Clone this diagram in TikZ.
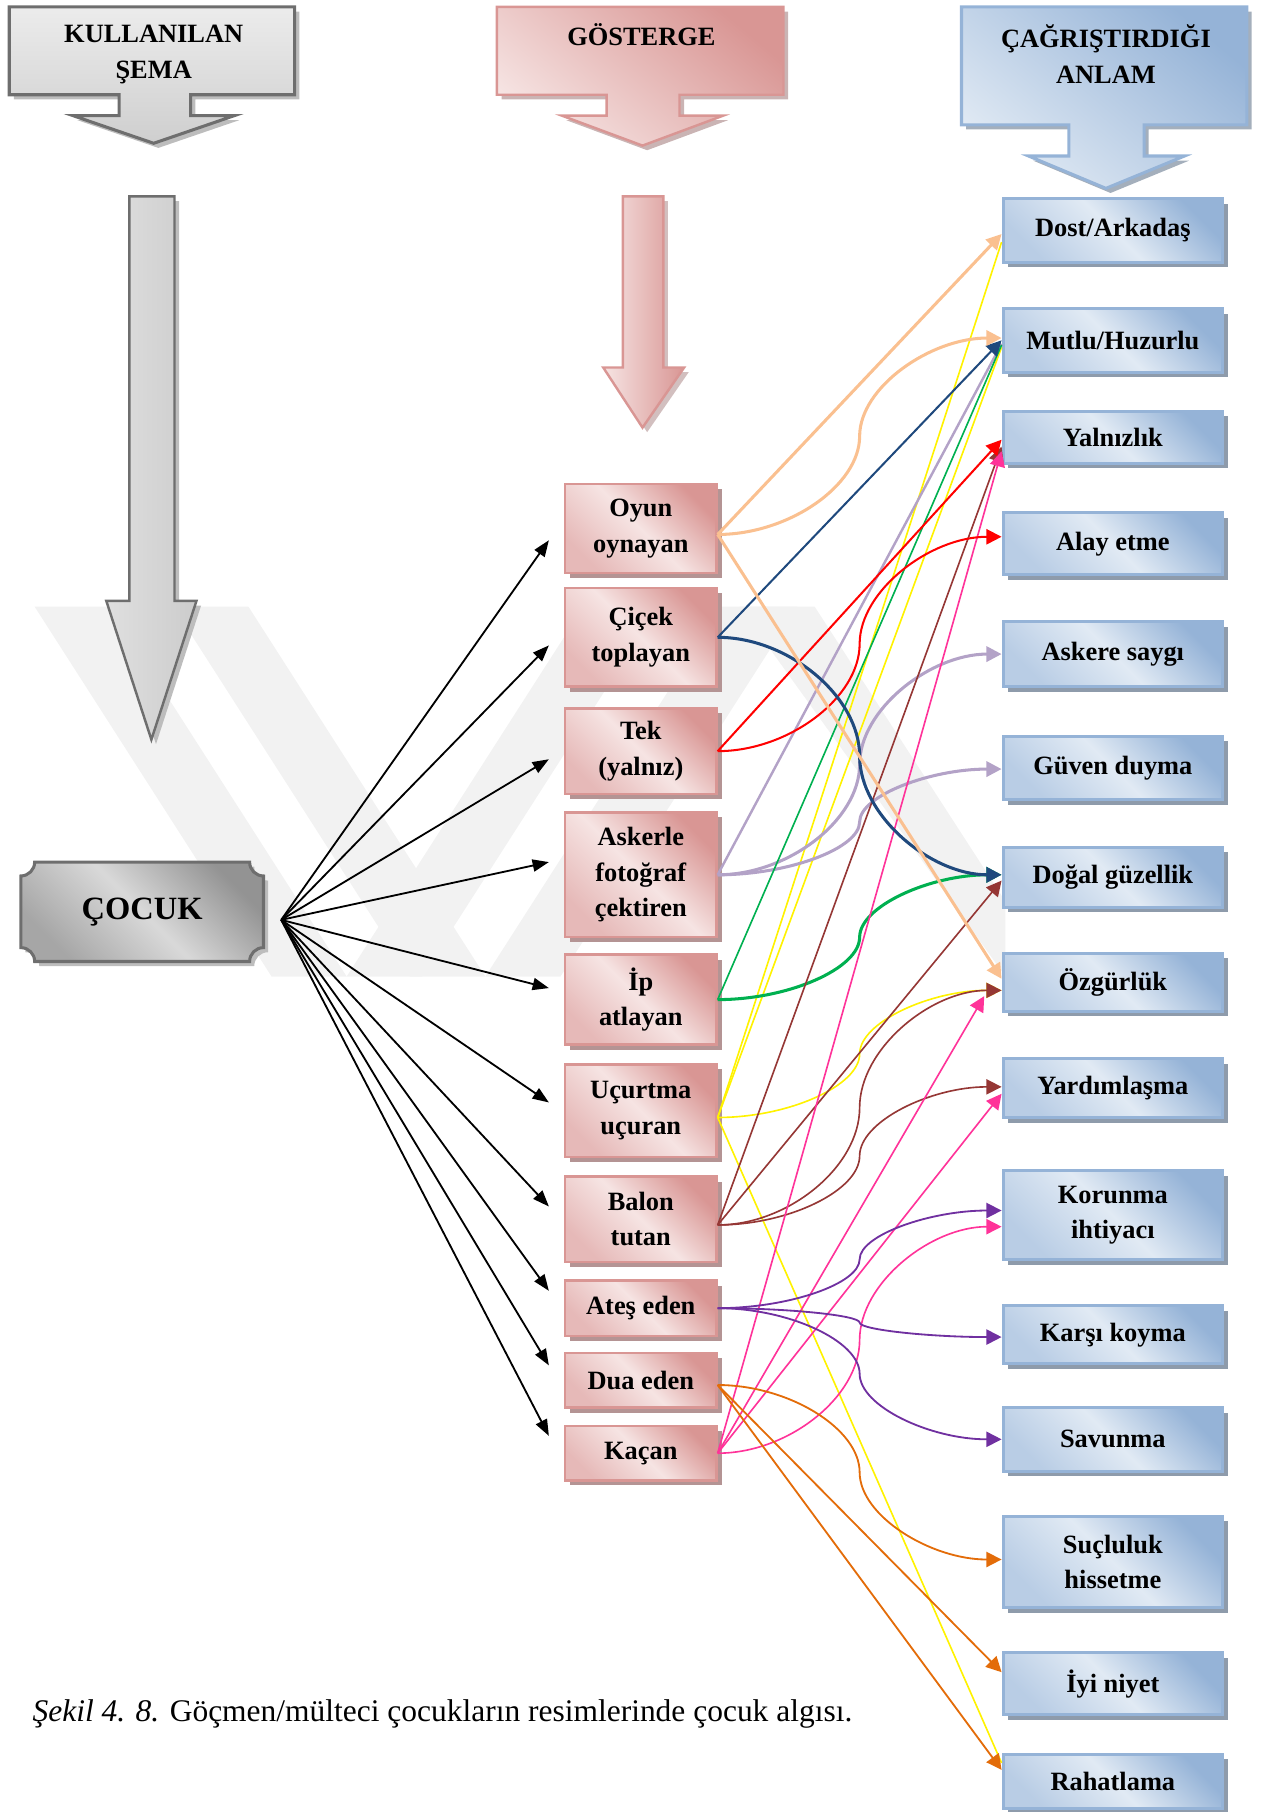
\documentclass[tikz,border=0pt]{standalone}
\usepackage{fontspec}
\setmainfont{Liberation Serif}
\definecolor{mypinkD}{HTML}{D99694}
\definecolor{mypinkM}{HTML}{E6B9B8}
\definecolor{mypinkL}{HTML}{F6E4E3}
\definecolor{mypinkS}{HTML}{B49494}
\definecolor{myblueD}{HTML}{95B3D7}
\definecolor{myblueM}{HTML}{B9CDE5}
\definecolor{myblueL}{HTML}{E1EAF4}
\definecolor{myblueS}{HTML}{8E9BAB}
\definecolor{mygrayB}{HTML}{6E6E6E}
\definecolor{mygrayS}{HTML}{BDBDBD}
\definecolor{mypeach}{HTML}{FAC090}
\definecolor{mynavy}{HTML}{1F497D}
\definecolor{mylilac}{HTML}{B3A2C7}
\definecolor{mygreen}{HTML}{00B050}
\definecolor{mybrown}{HTML}{953735}
\definecolor{mypurple}{HTML}{7030A0}
\definecolor{myorange}{HTML}{E36C09}
\definecolor{mypink}{HTML}{FF3399}
\usetikzlibrary{positioning, calc, arrows.meta, shadows}
\tikzset{
    gosterge/.style={
           rectangle,
           draw=mypinkD, line width=1.2pt,
           top color=mypinkD, bottom color=mypinkM, middle color=mypinkL,
           shading angle=-45,
           minimum width=2.62cm,
           inner sep=2pt,
           align=center,
           drop shadow={shadow xshift=2.5pt, shadow yshift=-2.5pt, fill=mypinkS, opacity=1},
           },
    anlam/.style={
           rectangle,
           draw=myblueD, line width=1.5pt,
           top color=myblueD, bottom color=myblueM, middle color=myblueL,
           shading angle=-45,
           minimum width=3.8cm,
           inner sep=2pt,
           align=center,
           drop shadow={shadow xshift=2.5pt, shadow yshift=-2.5pt, fill=myblueS, opacity=1},
           },
    ok/.style={-{Triangle[length=7.5pt,width=7.5pt]}},
    kivrik/.style={to path={let \p1=(\tikztostart), \p2=(\tikztotarget) in
           .. controls ({0.75*\x1+0.25*\x2},\y1) and ({0.5*\x1+0.5*\x2},{0.75*\y1+0.25*\y2})
           .. ({0.5*\x1+0.5*\x2},{0.5*\y1+0.5*\y2})
           .. controls ({0.5*\x1+0.5*\x2},{0.25*\y1+0.75*\y2}) and ({0.25*\x1+0.75*\x2},\y2)
           .. (\tikztotarget)}},
    filigran/.style={fill=black!5},
}
\newcommand{\kutu}{\fontsize{13}{17.5}\selectfont\bfseries}
\newcommand{\kulsekil}{(8,6) -- (255,6) -- (255,82) -- (165,82) -- (165,100) -- (203,100) -- (133,124) -- (63,100) -- (103,100) -- (103,82) -- (8,82) -- cycle}
\newcommand{\gossekil}{(430,6) -- (678,6) -- (678,82) -- (588,82) -- (588,100) -- (626,100) -- (556,126) -- (486,100) -- (525,100) -- (525,82) -- (430,82) -- cycle}
\newcommand{\cagsekil}{(832,6) -- (1079,6) -- (1079,108) -- (990,108) -- (990,135) -- (1025,135) -- (957,163) -- (890,135) -- (925,135) -- (925,108) -- (832,108) -- cycle}
\newcommand{\griok}{(112,170) -- (151,170) -- (151,520) -- (170,520) -- (131,640) -- (92,520) -- (112,520) -- cycle}
\newcommand{\pembeok}{(539,170) -- (574,170) -- (574,318) -- (592,318) -- (556,370) -- (522,318) -- (539,318) -- cycle}
\newcommand{\levha}{(30,746) -- (216,746) arc[start angle=180,end angle=90,radius=12] -- (228,820) arc[start angle=270,end angle=180,radius=12] -- (30,832) arc[start angle=0,end angle=-90,radius=12] -- (18,758) arc[start angle=90,end angle=0,radius=12] -- cycle}

\begin{document}
\begin{tikzpicture}[x=0.02cm, y=-0.02cm, font=\kutu]
      \useasboundingbox (0,0) rectangle (1091,1568);
      % filigran
      \fill[filigran] (30,525) -- (95,525) -- (300,845) -- (235,845) -- cycle;
      \fill[filigran] (150,525) -- (215,525) -- (420,845) -- (355,845) -- cycle;
      \fill[filigran] (300,845) -- (365,845) -- (570,525) -- (505,525) -- cycle;
      \fill[filigran] (420,845) -- (485,845) -- (690,525) -- (625,525) -- cycle;
      \fill[filigran] (640,525) -- (705,525) -- (870,780) -- (870,845) -- cycle;
      % basliklar
      \fill[mygrayS, shift={(4,4)}] \kulsekil;
      \draw[mygrayB, line width=1.5pt, top color=gray!15, bottom color=gray!38] \kulsekil;
      \fill[mypinkS!70, shift={(4,4)}] \gossekil;
      \draw[mypinkD, line width=1.2pt, top color=mypinkD, bottom color=mypinkL, shading angle=-40] \gossekil;
      \fill[myblueS!80, shift={(4,4)}] \cagsekil;
      \draw[myblueD, line width=1.5pt, top color=myblueD, bottom color=myblueL, shading angle=-40] \cagsekil;
      \node (kul) at (133,47) [align=center] {KULLANILAN\\ŞEMA};
      \node (gos) at (555,30) {GÖSTERGE};
      \node (cag) at (957,47) [align=center] {ÇAĞRIŞTIRDIĞI\\ANLAM};
      % uzun oklar
      \fill[mygrayS, shift={(4,4)}] \griok;
      \draw[mygrayB, line width=1.2pt, left color=gray!25, right color=gray!40] \griok;
      \fill[mypinkS!60, shift={(4,4)}] \pembeok;
      \draw[mypinkD, line width=1.2pt, left color=mypinkL, right color=mypinkD] \pembeok;
      % cocuk
      \fill[mygrayS, shift={(4,4)}] \levha;
      \draw[mygrayB, line width=1.5pt, top color=gray!85, bottom color=gray!70, middle color=gray!30, shading angle=-45] \levha;
      \node (cocuk) at (123,789) [minimum width=4.2cm, minimum height=1.72cm, font=\fontsize{16}{19}\selectfont\bfseries] {ÇOCUK};
      % gostergeler
      \node[gosterge, minimum height=1.54cm] (o1)  at (554.5, 457.5) {Oyun\\oynayan};
      \node[gosterge, minimum height=1.70cm] (o2)  at (554.5, 551.5) {Çiçek\\toplayan};
      \node[gosterge, minimum height=1.48cm] (o3)  at (554.5, 650)   {Tek\\(yalnız)};
      \node[gosterge, minimum height=2.16cm] (o4)  at (554.5, 757)   {Askerle\\fotoğraf\\çektiren};
      \node[gosterge, minimum height=1.56cm] (o5)  at (554.5, 865)   {İp\\atlayan};
      \node[gosterge, minimum height=1.60cm] (o6)  at (554.5, 961)   {Uçurtma\\uçuran};
      \node[gosterge, minimum height=1.48cm] (o7)  at (554.5, 1055)  {Balon\\tutan};
      \node[gosterge, minimum height=0.96cm] (o8)  at (554.5, 1132)  {Ateş eden};
      \node[gosterge, minimum height=0.94cm] (o9)  at (554.5, 1194.5) {Dua eden};
      \node[gosterge, minimum height=0.94cm] (o10) at (554.5, 1257.5) {Kaçan};
      % anlamlar
      \node[anlam, minimum height=1.10cm] (m1)  at (963, 199.5)  {Dost/Arkadaş};
      \node[anlam, minimum height=1.10cm] (m2)  at (963, 294.5)  {Mutlu/Huzurlu};
      \node[anlam, minimum height=0.90cm] (m3)  at (963, 378.5)  {Yalnızlık};
      \node[anlam, minimum height=1.08cm] (m4)  at (963, 470.5)  {Alay etme};
      \node[anlam, minimum height=1.12cm] (m5)  at (963, 566)    {Askere saygı};
      \node[anlam, minimum height=1.10cm] (m6)  at (963, 664.5)  {Güven duyma};
      \node[anlam, minimum height=1.04cm] (m7)  at (963, 759)    {Doğal güzellik};
      \node[anlam, minimum height=1.00cm] (m8)  at (963, 850)    {Özgürlük};
      \node[anlam, minimum height=1.02cm] (m9)  at (963, 941.5)  {Yardımlaşma};
      \node[anlam, minimum height=1.54cm] (m10) at (963, 1051.5) {Korunma\\ihtiyacı};
      \node[anlam, minimum height=1.00cm] (m11) at (963, 1155)   {Karşı koyma};
      \node[anlam, minimum height=1.10cm] (m12) at (963, 1245.5) {Savunma};
      \node[anlam, minimum height=1.58cm] (m13) at (963, 1351.5) {Suçluluk\\hissetme};
      \node[anlam, minimum height=1.08cm] (m14) at (963, 1457)   {İyi niyet};
      \node[anlam, minimum height=0.94cm] (m15) at (963, 1541.5) {Rahatlama};
      % cocuk -> gostergeler
      \foreach \i/\d in {1/10,2/7,3/7,4/-11,5/-10,6/-7,7/-11,8/-15,9/-13,10/-15}
          \draw[line width=0.9pt, -{Triangle[length=8pt,width=6pt]}] ($(cocuk.east)+(15,7)$) -- ($(o\i.west)+(-13,\d)$);
      % gostergeler -> anlamlar
      \draw[yellow, line width=0.8pt] ($(o6.east)+(0,6)$) edge ($(m1.west)+(0,10)$)
                                                         edge ($(m2.west)+(0,6)$)
                                                         edge ($(m15.west)+(0,-16)$)
                                                         edge[ok, kivrik] ($(m8.west)+(0,7)$);
      \draw[mylilac, line width=1.2pt] (o4.east) edge ($(m2.west)+(0,3)$);
      \draw[mylilac, line width=1.5pt] (o4.east) edge[ok, kivrik] (m5.west)
                                                 edge[ok, kivrik] ($(m6.west)+(0,1)$);
      \draw[mygreen, line width=0.8pt] (o5.east) edge ($(m2.west)+(0,4)$);
      \draw[mygreen, line width=1.5pt] (o5.east) edge[ok, kivrik] ($(m7.west)+(0,-2)$);
      \draw[mybrown, line width=0.8pt] ($(o7.east)+(0,5)$) edge[ok] ($(m3.west)+(0,8)$)
                                                           edge[ok] ($(m7.west)+(0,3)$)
                                                           edge[ok, kivrik] ($(m8.west)+(0,7)$)
                                                           edge[ok, kivrik] ($(m9.west)+(0,-1)$);
      \draw[mypink, line width=0.8pt] (o10.east) edge[ok] ($(m3.west)+(0,12)$)
                                                 edge[ok] ($(m8.west)+(-15,12)$)
                                                 edge[ok] ($(m9.west)+(0,5)$)
                                                 edge[ok, kivrik] ($(m10.west)+(0,10)$);
      \draw[red, line width=1pt] (o3.east) edge[ok] ($(m3.west)+(0,2)$)
                                           edge[ok, kivrik] ($(m4.west)+(0,-6)$);
      \draw[mynavy, line width=1pt] (o2.east) edge[ok] (m2.west);
      \draw[mynavy, line width=1.5pt] (o2.east) edge[ok, kivrik] ($(m7.west)+(0,-2)$);
      \draw[mypeach, line width=1.5pt] ($(o1.east)+(0,5)$) edge[ok] ($(m1.west)+(0,3)$)
                                                           edge[ok, kivrik] ($(m2.west)+(0,-2)$)
                                                           edge[ok] ($(m8.west)+(0,-3)$);
      \draw[mypurple, line width=0.9pt] (o8.east) edge[ok, kivrik] ($(m10.west)+(0,-4)$)
                                                  edge[ok, kivrik] ($(m11.west)+(0,2)$)
                                                  edge[ok, kivrik] (m12.west);
      \draw[myorange, line width=0.9pt] ($(o9.east)+(0,4)$) edge[ok, kivrik] ($(m13.west)+(0,-2)$)
                                                            edge[ok] ($(m14.west)+(0,-10)$)
                                                            edge[ok] ($(m15.west)+(0,-10)$);
      % alt yazi
      \node (yazi) at (22,1483) [anchor=west, font=\fontsize{15.5}{18}\selectfont] {\textit{Şekil 4. 8.} Göçmen/mülteci çocukların resimlerinde çocuk algısı.};
\end{tikzpicture}
\end{document}
